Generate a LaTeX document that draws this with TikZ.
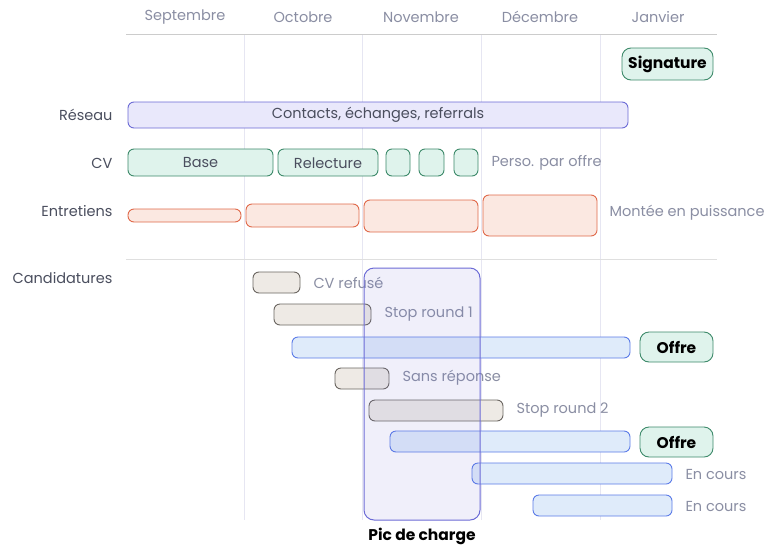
\documentclass[tikz,border=0pt]{standalone}
\usepackage{fontspec}
\setmainfont{Poppins}
\definecolor{txt}{HTML}{4A4E5E}
\definecolor{stxt}{HTML}{8A8EA3}
\definecolor{pf}{HTML}{E9E8FB}\definecolor{pd}{HTML}{6C6BD6}
\definecolor{gf}{HTML}{DFF3EC}\definecolor{gd}{HTML}{3D8A6A}
\definecolor{of}{HTML}{FBE8E1}\definecolor{od}{HTML}{E0694A}
\definecolor{yf}{HTML}{EEEAE5}\definecolor{yd}{HTML}{6B6661}
\definecolor{bf}{HTML}{DFEBFA}\definecolor{bd}{HTML}{5B7BE8}
\definecolor{grid}{HTML}{E6E6F2}
\begin{document}
\begin{tikzpicture}[x=1pt,y=-1pt,
 lab/.style={text=txt,font=\fontsize{14.5}{16}\selectfont},
 sub/.style={text=stxt,font=\fontsize{14.5}{16}\selectfont,anchor=west},
 mon/.style={text=stxt,font=\fontsize{14.5}{16}\selectfont},
 bar/.style={rounded corners=6pt,line width=0.9pt},
 pur/.style={bar,fill=pf,draw=pd},
 grn/.style={bar,fill=gf,draw=gd},
 ora/.style={bar,fill=of,draw=od},
 gry/.style={bar,fill=yf,draw=yd},
 blu/.style={bar,fill=bf,draw=bd},
 ofr/.style={grn,rounded corners=9pt},
 bt/.style={font=\fontsize{15.5}{17}\selectfont\bfseries,text=black}]
\useasboundingbox (0,0) rectangle (783,557);
\fill[white] (0,0) rectangle (783,557);
% grid
\foreach \x in {244,362,481,600}{\draw[grid,line width=0.8pt] (\x,34) -- (\x,520);}
\draw[gray!40,line width=1pt] (126,34) -- (717,34);
\draw[gray!25,line width=1pt] (126,259) -- (717,259);
\foreach \x/\m in {185/Septembre,303/Octobre,421/Novembre,540/Décembre,658/Janvier}{\node[mon] (m\x) at (\x,17) {\m};}
% rows labels
\node[lab,anchor=east] (lres) at (116,115) {Réseau};
\node[lab,anchor=east] (lcv) at (116,163) {CV};
\node[lab,anchor=east] (lent) at (116,211) {Entretiens};
\node[lab,anchor=east] (lcand) at (116,278) {Candidatures};
% signature
\draw[ofr] (622,48) rectangle (713,80);
\node[bt] (sig) at (667.5,64) {Signature};
% reseau
\draw[pur] (128,102) rectangle (628,128);
\node[lab] (res) at (378,115) {Contacts, échanges, referrals};
% CV
\draw[grn] (128,149) rectangle (273,176);
\node[lab] (base) at (200.5,163) {Base};
\draw[grn] (278,149) rectangle (378,176);
\node[lab] (rel) at (328,163) {Relecture};
\draw[grn] (386,149) rectangle (410,176);
\draw[grn] (419,149) rectangle (444,176);
\draw[grn] (454,149) rectangle (478,176);
\node[sub] (perso) at (488,163) {Perso. par offre};
% entretiens
\draw[ora] (128,209) rectangle (241,222);
\draw[ora] (246,204) rectangle (359,227);
\draw[ora] (364,200) rectangle (478,232);
\draw[ora] (483,195) rectangle (597,236);
\node[sub] (mont) at (606,213) {Montée en puissance};
% candidatures
\draw[gry] (253,272) rectangle (300,293);
\node[sub] (c1) at (310,283) {CV refusé};
\draw[gry] (274,304) rectangle (371,325);
\node[sub] (c2) at (381,314) {Stop round 1};
\draw[blu] (292,337) rectangle (630,358);
\draw[ofr] (640,332) rectangle (713,362);
\node[bt] (o1) at (676.5,347) {Offre};
\draw[gry] (335,368) rectangle (389,389);
\node[sub] (c3) at (399,378) {Sans réponse};
\draw[gry] (369,400) rectangle (503,421);
\node[sub] (c4) at (513,410) {Stop round 2};
\draw[blu] (390,431) rectangle (630,452);
\draw[ofr] (640,427) rectangle (713,457);
\node[bt] (o2) at (676.5,442) {Offre};
\draw[blu] (472,463) rectangle (672,484);
\node[sub] (c5) at (682,474) {En cours};
\draw[blu] (533,495) rectangle (672,516);
\node[sub] (c6) at (682,506) {En cours};
% pic de charge
\fill[rounded corners=10pt,fill=pd,fill opacity=0.1] (364,268) rectangle (480,520);
\draw[rounded corners=10pt,line width=1pt,draw=pd] (364,268) rectangle (480,520);
\node[bt] (pic) at (422,536) {Pic de charge};
\end{tikzpicture}
\end{document}
